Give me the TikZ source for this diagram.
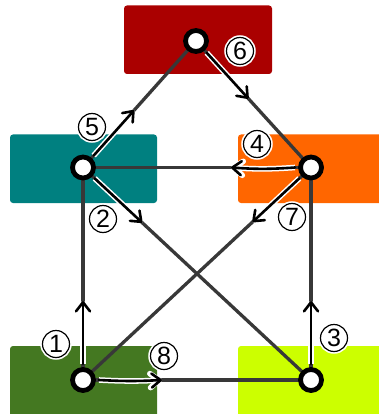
\documentclass[tikz,border=0pt]{standalone}
\usepackage{fontspec}
\setmainfont{Liberation Sans}
\usetikzlibrary{arrows.meta,calc}
\definecolor{cred}{HTML}{AA0000}
\definecolor{cteal}{HTML}{008080}
\definecolor{corange}{HTML}{FF6600}
\definecolor{cgreen}{HTML}{447821}
\definecolor{cyellow}{HTML}{CCFF00}
\definecolor{edgegray}{HTML}{383838}
\begin{document}
\begin{tikzpicture}[x=1pt,y=-1pt,
  box/.style={rounded corners=3pt},
  edge/.style={draw=edgegray, line width=3.3pt},
  vtx/.style={circle, draw=black, fill=white, line width=4.8pt, minimum size=21pt, inner sep=0pt},
  lbl/.style={circle, draw=black, fill=white, line width=1.2pt, minimum size=27pt, inner sep=0pt,
    font=\fontsize{25}{25}\selectfont, preaction={draw=white, line width=4.5pt}},
  tipa/.tip={Straight Barb[length=9pt, width=14pt, line cap=round, line join=round]},
  arrowstyle/.style={draw=black, line width=2.6pt, line cap=round, line join=round, -tipa,
    preaction={draw=white, line width=5.6pt, -tipa}}
]
\useasboundingbox (0,0) rectangle (379,414);
\clip (0,0) rectangle (379,414);
% boxes
\fill[cred, box] (124,5.5) rectangle (272,74);
\fill[cteal, box] (10,134.5) rectangle (157,203);
\fill[corange, box] (238,134.5) rectangle (395,203);
\fill[cgreen, box] (10,346) rectangle (157,425);
\fill[cyellow, box] (238,346) rectangle (395,425);
% vertex positions
\coordinate (T) at (196,41);
\coordinate (L) at (83,167.5);
\coordinate (R) at (311,167.5);
\coordinate (G) at (83,380);
\coordinate (Y) at (311,380);
% edges
\draw[edge] (T) -- (L);
\draw[edge] (T) -- (R);
\draw[edge] (L) -- (R);
\draw[edge] (L) -- (G);
\draw[edge] (R) -- (Y);
\draw[edge] (L) -- (Y);
\draw[edge] (R) -- (G);
\draw[edge] (G) -- (Y);
% arrows
\draw[arrowstyle] ($(G)!16pt!(L)$) coordinate (a1s) -- ($(G)!79pt!(L)$) coordinate (a1e);
\draw[arrowstyle] ($(L)!16pt!(Y)$) coordinate (a2s) -- ($(L)!81pt!(Y)$) coordinate (a2e);
\draw[arrowstyle] ($(Y)!16pt!(R)$) coordinate (a3s) -- ($(Y)!79pt!(R)$) coordinate (a3e);
\draw[arrowstyle] ($(R)!16pt!(L)$) coordinate (a4s) to[bend left=4] ($(R)!80pt!(L)$) coordinate (a4e);
\draw[arrowstyle] ($(L)!16pt!(T)$) coordinate (a5s) -- ($(L)!77pt!(T)$) coordinate (a5e);
\draw[arrowstyle] ($(T)!16pt!(R)$) coordinate (a6s) -- ($(T)!78pt!(R)$) coordinate (a6e);
\draw[arrowstyle] ($(R)!16pt!(G)$) coordinate (a7s) -- ($(R)!80pt!(G)$) coordinate (a7e);
\draw[arrowstyle] ($(G)!16pt!(Y)$) coordinate (a8s) to[bend right=3] ($(G)!79pt!(Y)$) coordinate (a8e);
% vertices
\node[vtx] (vT) at (T) {};
\node[vtx] (vL) at (L) {};
\node[vtx] (vR) at (R) {};
\node[vtx] (vG) at (G) {};
\node[vtx] (vY) at (Y) {};
% labels
\node[lbl] (l1) at (56,344) {1};
\node[lbl] (l2) at (103,219) {2};
\node[lbl] (l3) at (334,338) {3};
\node[lbl] (l4) at (257,144) {4};
\node[lbl] (l5) at (92,127) {5};
\node[lbl] (l6) at (240,51) {6};
\node[lbl] (l7) at (292,217) {7};
\node[lbl] (l8) at (164,356) {8};
\end{tikzpicture}
\end{document}
